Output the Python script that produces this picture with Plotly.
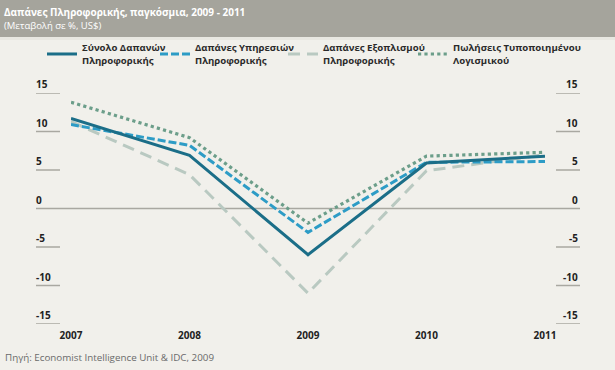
import plotly.graph_objects as go

years = [2007, 2008, 2009, 2010, 2011]
total_it = [11.7, 6.9, -6.0, 5.9, 6.8]
services = [10.9, 8.2, -3.1, 6.0, 6.1]
hardware = [11.3, 4.4, -11.0, 4.9, 7.0]
software = [13.8, 9.2, -1.9, 6.8, 7.3]
y_ticks = [15, 10, 5, 0, -5, -10, -15]
y_tick_labels = ["15", "10", "5", "0", "-5", "-10", "-15"]
series_names = [
    "Σύνολο Δαπανών<br>Πληροφορικής",
    "Δαπάνες Υπηρεσιών<br>Πληροφορικής",
    "Δαπάνες Εξοπλισμού<br>Πληροφορικής",
    "Πωλήσεις Τυποποιημένου<br>Λογισμικού",
]
title = "Δαπάνες Πληροφορικής, παγκόσμια, 2009 - 2011"
subtitle = "(Μεταβολή σε %, US$)"
source = "Πηγή: Economist Intelligence Unit & IDC, 2009"

W, H = 615, 370
L, R, T, B = 71, 70, 93, 46
PW, PH = W - L - R, H - T - B


def px_x(p):
    return (p - L) / PW


def px_y(p):
    return (H - B - p) / PH


FONT = "Open Sans"
bg = "#f1f0eb"
grid = "#a9a8a1"
txt = "#222222"

styles = [
    dict(color="#1b6e88", width=3, dash="solid"),
    dict(color="#2d9cc6", width=3, dash="8px,3px"),
    dict(color="#b9c9c1", width=3, dash="12px,7px"),
    dict(color="#6c9e8a", width=3.2, dash="dot"),
]
legend_ids = ["legend", "legend2", "legend3", "legend4"]
legend_text_starts = [82, 195, 323, 453]
data = [total_it, services, hardware, software]

fig = go.Figure()
# drawing order: hardware at back
for i in [2, 3, 1, 0]:
    fig.add_trace(go.Scatter(
        x=years, y=data[i], mode="lines", name=series_names[i],
        line=styles[i], hoverinfo="skip", legend=legend_ids[i],
    ))

shapes = []
shapes.append(dict(type="rect", xref="paper", yref="paper",
                   x0=px_x(0), x1=px_x(W), y0=px_y(37), y1=px_y(0),
                   fillcolor="#a5a49c", line=dict(width=0), layer="below"))
shapes.append(dict(type="rect", xref="paper", yref="paper",
                   x0=px_x(0), x1=px_x(W), y0=px_y(40), y1=px_y(37),
                   fillcolor="#e8e7e1", line=dict(width=0), layer="below"))
annotations = []
for v, lab in zip(y_ticks, y_tick_labels):
    if v == 0:
        shapes.append(dict(type="line", xref="paper", yref="y",
                           x0=px_x(36), x1=px_x(580), y0=0, y1=0,
                           line=dict(color=grid, width=1.5), layer="below"))
    else:
        for a, b in [(36, 60), (556, 580)]:
            shapes.append(dict(type="line", xref="paper", yref="y",
                               x0=px_x(a), x1=px_x(b), y0=v, y1=v,
                               line=dict(color=grid, width=1.5), layer="below"))
    annotations.append(dict(x=px_x(34), y=v, xref="paper", yref="y",
                            text=lab, showarrow=False, xanchor="left",
                            yanchor="bottom", yshift=0,
                            font=dict(family=FONT, size=10, color=txt, weight="bold")))
    annotations.append(dict(x=px_x(580), y=v, xref="paper", yref="y",
                            text=lab, showarrow=False, xanchor="right",
                            yanchor="bottom", yshift=0,
                            font=dict(family=FONT, size=10, color=txt, weight="bold")))

annotations.append(dict(x=px_x(3), y=px_y(18.5), xref="paper", yref="paper",
                        text="<b>" + title + "</b><br><span style='font-size:9.5px'>"
                        + subtitle + "</span>",
                        showarrow=False, align="left", borderpad=0,
                        xanchor="left", yanchor="middle",
                        font=dict(family=FONT, size=10, color="white")))
annotations.append(dict(x=px_x(3), y=px_y(357), xref="paper", yref="paper",
                        text=source, showarrow=False,
                        xanchor="left", yanchor="middle",
                        font=dict(family=FONT, size=9.8, color="#6a6a6a")))

legend_layouts = {}
for lid, tx in zip(legend_ids, legend_text_starts):
    legend_layouts[lid] = dict(
        orientation="h", x=px_x(tx - 40), y=px_y(35), xanchor="left",
        yanchor="top", bgcolor="rgba(0,0,0,0)", borderwidth=0,
        font=dict(family=FONT, size=9.6, color="#2a2a2a", weight="bold"),
        itemwidth=30, traceorder="normal",
    )

fig.update_layout(
    width=W, height=H,
    margin=dict(l=L, r=R, t=T, b=B, autoexpand=False),
    paper_bgcolor=bg, plot_bgcolor=bg,
    shapes=shapes, annotations=annotations,
    showlegend=True,
    xaxis=dict(range=[2007, 2011], tickvals=years, ticktext=[str(y) for y in years],
               showgrid=False, zeroline=False, showline=False, ticks="",
               ticklabelstandoff=4,
               tickfont=dict(family=FONT, size=10, color=txt, weight="bold"),
               fixedrange=True),
    yaxis=dict(range=[-15, 15], showgrid=False, zeroline=False, showline=False,
               showticklabels=False, ticks="", fixedrange=True),
    **legend_layouts,
)

fig.write_html("out.html", config={"displayModeBar": False},
               post_script="document.body.style.margin='0';document.body.style.overflow='hidden';")
